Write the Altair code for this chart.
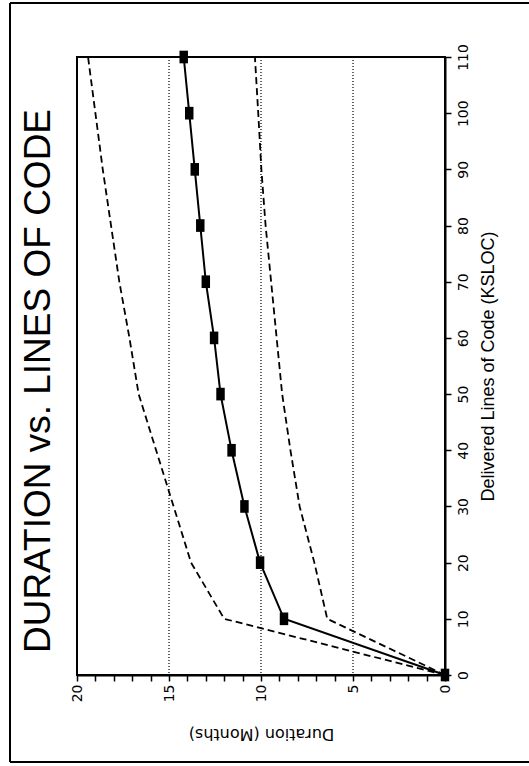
import altair as alt
import pandas as pd

# ---- data ----
ksloc = [0, 10, 20, 30, 40, 50, 60, 70, 80, 90, 100, 110]
duration_expected = [0, 8.75, 10.05, 10.9, 11.6, 12.2, 12.55, 13.0, 13.3, 13.6, 13.9, 14.2]
duration_upper = [0, 12.0, 13.8, 14.75, 15.7, 16.65, 17.15, 17.7, 18.15, 18.6, 19.0, 19.4]
duration_lower = [0, 6.4, 7.1, 7.9, 8.4, 8.85, 9.15, 9.45, 9.75, 9.98, 10.15, 10.33]
grid_months = [5, 10, 15]
duration_ticks = list(range(0, 21))
ksloc_ticks = list(range(0, 111, 10))

main_df = pd.DataFrame({"ksloc": ksloc, "duration": duration_expected})
band_df = pd.DataFrame({
    "ksloc": ksloc + ksloc,
    "duration": duration_upper + duration_lower,
    "series": ["upper"] * len(ksloc) + ["lower"] * len(ksloc),
})
grid_df = pd.DataFrame({"duration": grid_months})

common_axis = dict(
    domainColor="black",
    domainWidth=2,
    tickColor="black",
    tickWidth=1.5,
    tickSize=6,
    labelColor="black",
    labelFont="DejaVu Sans",
    labelFontSize=14,
    titleColor="black",
    titleFontWeight="normal",
    labelFlush=False,
    labelOverlap=False,
    grid=False,
)

x_enc = alt.X(
    "duration:Q",
    scale=alt.Scale(domain=[0, 20], reverse=True, nice=False),
    axis=alt.Axis(
        orient="bottom",
        values=duration_ticks,
        labelExpr="datum.value % 5 == 0 ? datum.label : ''",
        labelAngle=270,
        labelPadding=3,
        title="Duration (Months)",
        titleAngle=180,
        titleFont="DejaVu Sans",
        titleFontSize=16,
        titlePadding=40,
        **common_axis,
    ),
)
y_enc = alt.Y(
    "ksloc:Q",
    scale=alt.Scale(domain=[0, 110], nice=False),
    axis=alt.Axis(
        orient="right",
        values=ksloc_ticks,
        labelAngle=270,
        labelPadding=5,
        title="Delivered Lines of Code (KSLOC)",
        titleAngle=270,
        titleFont="Liberation Sans",
        titleFontSize=18,
        titlePadding=27,
        **common_axis,
    ),
)

grid = alt.Chart(grid_df).mark_rule(color="black", strokeWidth=1.2, strokeDash=[1, 2]).encode(x=x_enc)

band = alt.Chart(band_df).mark_line(color="black", strokeWidth=1.8, strokeDash=[7, 4]).encode(
    x=x_enc, y=y_enc, detail="series:N", order="ksloc:Q"
)

main_line = alt.Chart(main_df).mark_line(color="black", strokeWidth=2).encode(
    x=x_enc, y=y_enc, order="ksloc:Q"
)

main_pts = alt.Chart(main_df).mark_point(
    shape="M-0.67,-1L0.67,-1L0.67,1L-0.67,1Z", filled=True, size=160, color="black", opacity=1
).encode(x=x_enc, y=y_enc)

one = pd.DataFrame({"a": [0]})
border_left = alt.Chart(one).mark_rule(color="black", strokeWidth=2).encode(
    x=alt.value(-67), y=alt.value(-54), y2=alt.value(705)
)
border_top = alt.Chart(one).mark_rule(color="black", strokeWidth=2).encode(
    x=alt.value(-67), x2=alt.value(470), y=alt.value(-54)
)
border_bottom = alt.Chart(one).mark_rule(color="black", strokeWidth=2).encode(
    x=alt.value(-67), x2=alt.value(470), y=alt.value(705)
)

chart = alt.layer(
    grid, band, main_line, main_pts, border_left, border_top, border_bottom
).properties(
    width=368,
    height=618,
    autosize=alt.AutoSizeParams(type="none"),
    padding={"left": 77, "top": 57, "right": 84, "bottom": 91},
    background="white",
    title=alt.TitleParams(
        "DURATION vs. LINES OF CODE",
        orient="left",
        anchor="middle",
        font="Liberation Sans",
        fontSize=37,
        fontWeight="normal",
        color="black",
        offset=-49,
        dx=-15,
    ),
).configure_view(
    stroke="black", strokeWidth=2
)

chart.save("out.html", embed_options={"renderer": "svg", "actions": False})
